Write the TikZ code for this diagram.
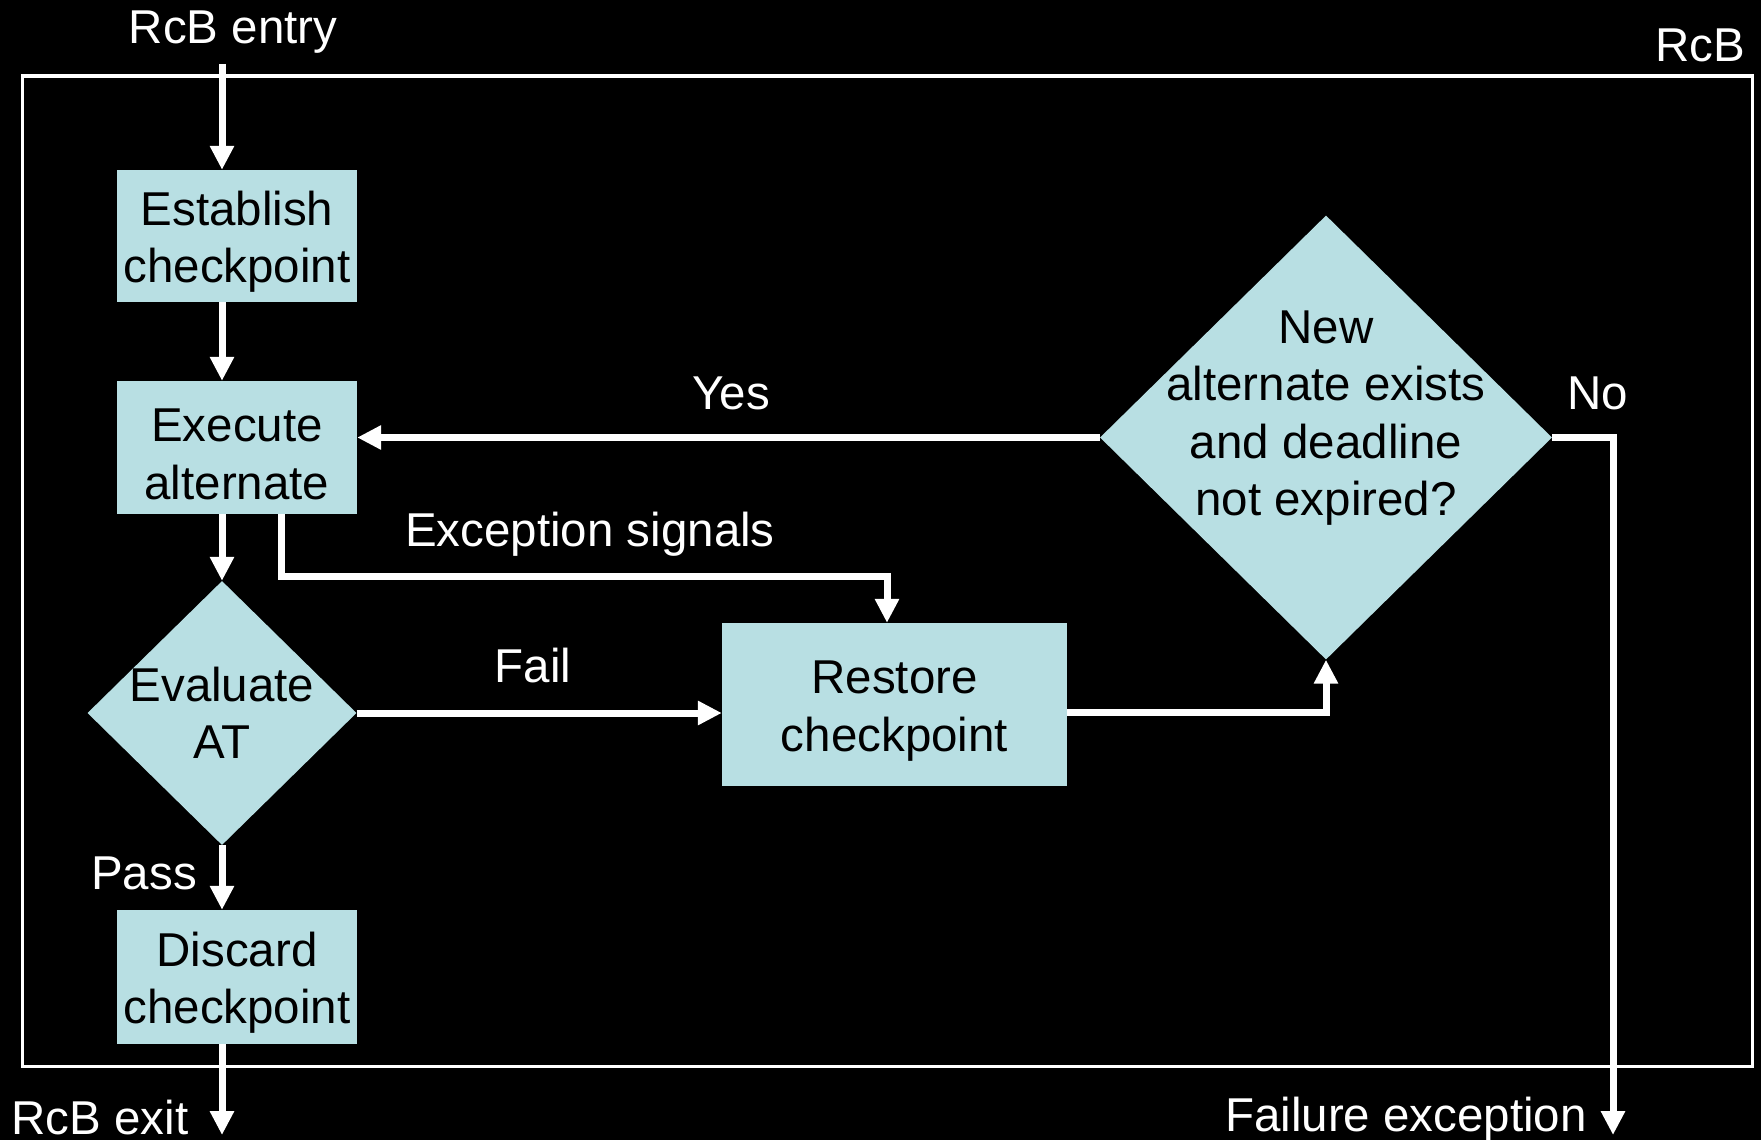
\documentclass[tikz,border=0pt]{standalone}
\usepackage{fontspec}
\setmainfont{Liberation Sans}
\usetikzlibrary{arrows.meta,shapes.geometric}
\definecolor{boxfill}{RGB}{184,223,227}
% strut that lowers the text block inside a box a little
\newcommand{\firstlinestrut}{\rule{0pt}{46pt}}
\begin{document}
\begin{tikzpicture}[x=1pt,y=-1pt,
  every node/.style={font=\fontsize{47.5}{57.5}\selectfont},
  stepbox/.style={rectangle, fill=boxfill, inner sep=0pt, text=black, align=center},
  decision/.style={diamond, fill=boxfill, inner sep=0pt},
  dectext/.style={inner sep=0pt, text=black, align=center},
  caption/.style={text=white, anchor=base, inner sep=0pt},
  flow/.style={draw=white, line width=7pt, -{Triangle[width=23pt,length=24pt]}},
]
\useasboundingbox (0,0) rectangle (1761,1140);
% background and enclosing recovery-block frame
\fill[black] (0,0) rectangle (1761,1140);
\draw[white, line width=3pt] (22.5,76) rectangle (1752,1066);

% process boxes
\node[stepbox, minimum width=240pt, minimum height=132pt] (establish) at (237,236) {\firstlinestrut Establish\\checkpoint};
\node[stepbox, minimum width=240pt, minimum height=133pt] (execute) at (237,447.5) {\firstlinestrut Execute\\alternate};
\node[stepbox, minimum width=240pt, minimum height=134pt] (discard) at (237,977) {\firstlinestrut Discard\\checkpoint};
\node[stepbox, minimum width=345pt, minimum height=163pt] (restore) at (894.5,704.5) {\firstlinestrut Restore\\checkpoint};

% decisions
\node[decision, minimum width=269pt, minimum height=264pt] (evaluate) at (222,713) {};
\node[dectext] (evaltext) at (222,713) {Evaluate\\AT};
\node[decision, minimum width=452pt, minimum height=444pt] (newalt) at (1326,437.5) {};
\node[dectext] (newalttext) at (1326,418) {New\\alternate exists\\and deadline\\not expired?};

% labels
\node[caption] (entrylbl) at (233,44) {RcB entry};
\node[caption] (rcblbl) at (1700,62) {RcB};
\node[caption] (yeslbl) at (731,409) {Yes};
\node[caption] (nolbl) at (1598,409) {No};
\node[caption] (exclbl) at (590,546) {Exception signals};
\node[caption] (faillbl) at (533,682) {Fail};
\node[caption] (passlbl) at (144,889) {Pass};
\node[caption] (exitlbl) at (100,1134) {RcB exit};
\node[caption] (faillexc) at (1406,1131) {Failure exception};

% free ends and bends
\coordinate (entry) at (222,64);
\coordinate (exit) at (222,1135);
\coordinate (excA) at (281,576);
\coordinate (excB) at (887,576);
\coordinate (failrow) at (1067,712);
\coordinate (nocol) at (1613,440);
\coordinate (noEnd) at (1613,1135);

% connectors
\draw[flow] (entry) -- (entry |- establish.north);
\draw[flow] (establish.south -| entry) -- (execute.north -| entry);
\draw[flow] (execute.south -| entry) -- (evaluate.north);
\draw[flow] (evaluate.south) -- (discard.north -| evaluate.south);
\draw[flow] (discard.south -| exit) -- (exit);
\draw[flow] (evaluate.east) -- (evaluate.east -| restore.west);
\draw[flow] (execute.south -| excA) -- (excA) -- (excB) -- (restore.north -| excB);
\draw[flow] (restore.east |- failrow) -| (newalt.south);
\draw[flow] (newalt.west) -- (newalt.west -| execute.east);
\draw[flow] (newalt.east) -- (newalt.east -| nocol) -- (noEnd);
\end{tikzpicture}
\end{document}
